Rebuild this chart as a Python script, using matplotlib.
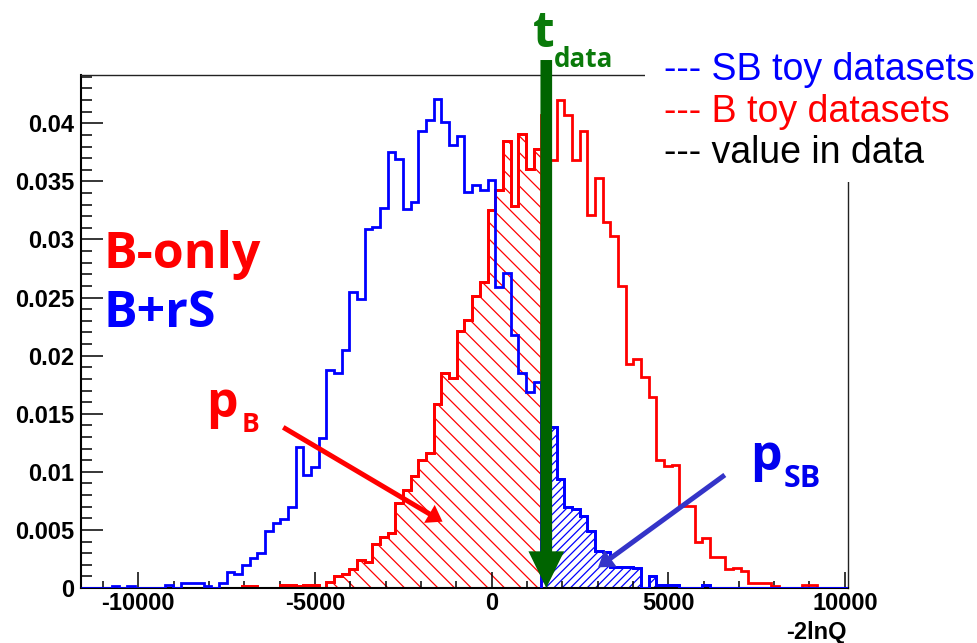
import numpy as np
import matplotlib
matplotlib.use("Agg")
import matplotlib.pyplot as plt
from matplotlib.patches import Rectangle
from matplotlib.ticker import MultipleLocator

#Step 1: Histogram setup (-2lnQ, 100 bins)
x_lo = -11620
x_hi = 10090
n_bins = 100

# B toy datasets (red), fraction of toys per bin
b_toys = [
    0, 0, 0, 0, 0, 0, 0, 0, 0, 0,
    0, 0, 0, 0, 0, 0, 0, 0, 0, 0,
    0, 0.0002, 0.0002, 0, 0, 0, 0.0003, 0.0003, 0.0002, 0.0003,
    0.0003, 0, 0.0005, 0.0010, 0.0012, 0.0016, 0.0024, 0.0022, 0.0038, 0.0044,
    0.0047, 0.0073, 0.0084, 0.0096, 0.0110, 0.0116, 0.0158, 0.0185, 0.0181, 0.0221,
    0.0231, 0.0251, 0.0263, 0.0325, 0.0343, 0.0385, 0.0329, 0.0391, 0.0361, 0.0378,
    0.0407, 0.0368, 0.0420, 0.0407, 0.0368, 0.0393, 0.0321, 0.0353, 0.0315, 0.0303,
    0.0260, 0.0193, 0.0197, 0.0182, 0.0164, 0.0110, 0.0105, 0.0106, 0.0071, 0.0071,
    0.0040, 0.0043, 0.0027, 0.0027, 0.0016, 0.0017, 0.0015, 0.0004, 0.0004, 0.0004,
    0.0002, 0, 0, 0, 0.0003, 0.0003, 0, 0, 0, 0,
]

# SB toy datasets (blue)
sb_toys = [
    0, 0, 0, 0, 0.0002, 0, 0.0002, 0, 0, 0,
    0, 0.0003, 0, 0.0004, 0.0004, 0.0004, 0.0002, 0, 0.0004, 0.0014,
    0.0012, 0.0020, 0.0026, 0.0030, 0.0049, 0.0056, 0.0059, 0.0070, 0.0121, 0.0097,
    0.0104, 0.0129, 0.0188, 0.0185, 0.0205, 0.0255, 0.0249, 0.0309, 0.0311, 0.0327,
    0.0375, 0.0369, 0.0326, 0.0332, 0.0393, 0.0403, 0.0421, 0.0401, 0.0381, 0.0389,
    0.0341, 0.0347, 0.0343, 0.0351, 0.0259, 0.0271, 0.0218, 0.0185, 0.0169, 0.0177,
    0.0115, 0.0139, 0.0094, 0.0070, 0.0068, 0.0062, 0.0049, 0.0032, 0.0031, 0.0018,
    0.0018, 0.0018, 0.0017, 0, 0.0010, 0.0003, 0.0003, 0.0003, 0, 0,
    0, 0.0003, 0, 0, 0, 0, 0, 0, 0, 0,
    0, 0, 0, 0, 0, 0, 0, 0, 0, 0,
]

t_data_bin = 60      # first bin above the observed value
t_arrow_x = 1550     # drawn position of the t_data arrow

ytick_vals = [0, 0.005, 0.01, 0.015, 0.02, 0.025, 0.03, 0.035, 0.04]
ytick_labels = ["0", "0.005", "0.01", "0.015", "0.02", "0.025", "0.03", "0.035", "0.04"]
xtick_vals = [-10000, -5000, 0, 5000, 10000]
xtick_labels = ["-10000", "-5000", "0", "5000", "10000"]

legend_labels = ["--- SB toy datasets", "--- B toy datasets", "--- value in data"]
legend_colors = ["#0000ff", "#ff0000", "#000000"]

W, H = 978, 643
def fx(px):
    return px / W
def fy(py):
    return 1 - py / H

plt.rcParams['hatch.linewidth'] = 0.9

#Step 2: Figure and axes
fig = plt.figure(figsize=(W / 100, H / 100), dpi=100)
ax = fig.add_axes([fx(81), fy(588), 767 / W, 513 / H])

edges = np.linspace(x_lo, x_hi, n_bins + 1)
b_vals = np.array(b_toys)
sb_vals = np.array(sb_toys)
k = t_data_bin

#Step 3: Histograms with hatched tails
ax.stairs(b_vals, edges, color='#ff0000', lw=2.0, zorder=2)
ax.stairs(b_vals[:k], edges[:k + 1], fill=True, facecolor='none',
          edgecolor='#ff0000', hatch='\\\\', lw=0, zorder=1)
ax.stairs(b_vals[:k], edges[:k + 1], color='#ff0000', lw=2.0, zorder=2)

ax.stairs(sb_vals, edges, color='#0000ff', lw=2.0, zorder=3)
ax.stairs(sb_vals[k:], edges[k:], fill=True, facecolor='none',
          edgecolor='#0000ff', hatch='////', lw=0, zorder=1)
ax.stairs(sb_vals[k:], edges[k:], color='#0000ff', lw=2.0, zorder=3)

ax.set_xlim(x_lo, x_hi)
ax.set_ylim(0, 0.04416)

#Step 4: Axis styling (ROOT look)
ax.set_yticks(ytick_vals, ytick_labels, fontsize=17, fontweight='bold',
              fontfamily='Liberation Sans')
ax.set_xticks(xtick_vals, xtick_labels, fontsize=17, fontweight='bold',
              fontfamily='Liberation Sans')
ax.yaxis.set_minor_locator(MultipleLocator(0.001))
ax.xaxis.set_minor_locator(MultipleLocator(1000))
ax.tick_params(axis='y', which='major', direction='in', length=15.8, width=1.1, pad=5)
ax.tick_params(axis='y', which='minor', direction='in', length=7.9, width=1.1)
ax.tick_params(axis='x', which='major', direction='in', length=11.3, width=1.1, pad=3)
ax.tick_params(axis='x', which='minor', direction='in', length=5, width=1.1)
for side in ['left', 'bottom']:
    ax.spines[side].set_linewidth(1.5)
for side in ['top', 'right']:
    ax.spines[side].set_linewidth(1.0)
    ax.spines[side].set_color('#222222')

#Step 5: Arrows
ax.annotate("", xy=(t_arrow_x, 0), xytext=(t_arrow_x, 0.04545),
            arrowprops=dict(arrowstyle="simple,head_length=26.4,head_width=25.7,tail_width=8.4",
                            mutation_scale=1, color='#006400', lw=0,
                            shrinkA=0, shrinkB=0),
            annotation_clip=False, zorder=6)
ax.annotate("", xy=(-1386, 0.00571), xytext=(-5896, 0.01383),
            arrowprops=dict(arrowstyle="simple,head_length=11,head_width=15,tail_width=3.6",
                            mutation_scale=1, color='#ff0000', lw=0,
                            shrinkA=0, shrinkB=0),
            zorder=6)
ax.annotate("", xy=(3017, 0.00178), xytext=(6603, 0.00973),
            arrowprops=dict(arrowstyle="simple,head_length=11,head_width=15,tail_width=3.6",
                            mutation_scale=1, color='#3434c8', lw=0,
                            shrinkA=0, shrinkB=0),
            zorder=6)

#Step 6: Annotation texts
bold = dict(family='Open Sans', fontweight='bold', va='baseline')
fig.text(fx(104), fy(268), "B-only", color='#ff0000', fontsize=36, **bold)
fig.text(fx(104), fy(326.7), "B+rS", color='#0000ff', fontsize=36, **bold)
fig.text(fx(206), fy(417), "p", color='#ff0000', fontsize=36, **bold)
fig.text(fx(242), fy(431.7), "B", color='#ff0000', fontsize=19, **bold)
fig.text(fx(750), fy(469.5), "p", color='#0000ee', fontsize=36, **bold)
fig.text(fx(784), fy(486.7), "SB", color='#0000ee', fontsize=22, **bold)
fig.text(fx(533), fy(46.7), "t", color='#0a7a0a', fontsize=36, **bold)
fig.text(fx(554), fy(67), "data", color='#0a7a0a', fontsize=18.7, **bold)

fig.text(fx(847), fy(639.5), "-2lnQ", ha='right', va='baseline', fontsize=17,
         fontweight='bold', family='Liberation Sans')

#Step 7: Legend box covering the frame corner
fig.add_artist(Rectangle((fx(645), fy(182)), 1 - fx(645), 182 / H,
                         transform=fig.transFigure, facecolor='white',
                         edgecolor='none', zorder=4))
for i, (lbl, col) in enumerate(zip(legend_labels, legend_colors)):
    fig.text(fx(664), fy(80 + 41.7 * i), lbl, color=col, fontsize=27,
             family='Liberation Sans', va='baseline', zorder=5)

fig.savefig("out.png", dpi=100)
